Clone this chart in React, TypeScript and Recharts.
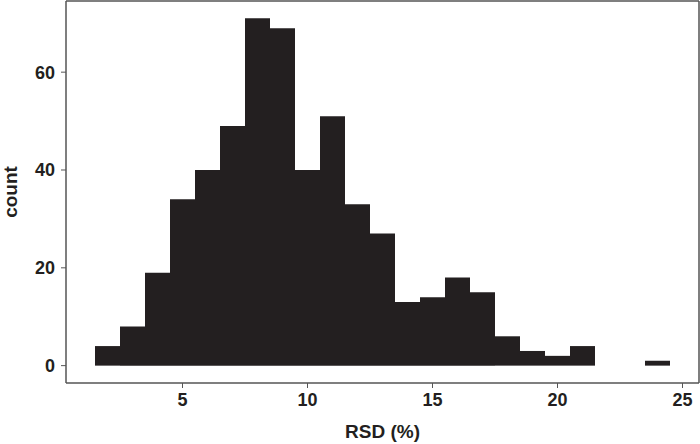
import { BarChart, Bar, XAxis, YAxis, CartesianGrid } from 'recharts';

// histogram bins (centre of each 1-unit bin) and counts
const bins = [2, 3, 4, 5, 6, 7, 8, 9, 10, 11, 12, 13, 14, 15, 16, 17, 18, 19, 20, 21, 22, 23, 24, 25];
const counts = [4, 8, 19, 34, 40, 49, 71, 69, 40, 51, 33, 27, 13, 14, 18, 15, 6, 3, 2, 4, 0, 0, 1, 0];

const xTicks = [5, 10, 15, 20, 25];
const yTicks = [0, 20, 40, 60];

const data = bins.map((b, i) => ({ bin: b, count: counts[i] }));

const font = '"Liberation Sans", Arial, sans-serif';
const axisColor = '#555555';
const textColor = '#231f20';

export default function App() {
  return (
    <div style={{ position: 'fixed', left: 0, top: 0, background: '#fff' }}>
      <BarChart
        width={700}
        height={444}
        data={data}
        margin={{ top: 1, right: 1, left: 0, bottom: 0 }}
        barCategoryGap={0}
        barGap={0}
      >
        {/* top + right frame lines of the panel */}
        <CartesianGrid
          stroke={axisColor}
          strokeWidth={1.5}
          strokeDasharray=""
          horizontalCoordinatesGenerator={({ offset }: any) => [offset.top]}
          verticalCoordinatesGenerator={({ offset }: any) => [offset.left + offset.width]}
        />
        <XAxis
          dataKey="bin"
          type="category"
          ticks={xTicks}
          interval={0}
          height={61}
          padding={{ left: 29, right: 4 }}
          axisLine={{ stroke: axisColor, strokeWidth: 1.5 }}
          tickLine={{ stroke: axisColor }}
          tickSize={5}
          tickMargin={5}
          tick={{ fill: textColor, fontSize: 18, fontWeight: 700, fontFamily: font }}
          label={{
            value: 'RSD (%)',
            position: 'insideBottom',
            offset: 6,
            fill: textColor,
            fontSize: 19,
            fontWeight: 700,
            fontFamily: font,
          }}
        />
        <YAxis
          width={66}
          domain={[-3.55, 74.55]}
          ticks={yTicks}
          allowDataOverflow
          axisLine={{ stroke: axisColor, strokeWidth: 1.5 }}
          tickLine={{ stroke: axisColor }}
          tickSize={5}
          tickMargin={6}
          tick={{ fill: textColor, fontSize: 18, fontWeight: 700, fontFamily: font }}
          label={{
            value: 'count',
            angle: -90,
            position: 'insideLeft',
            offset: 10,
            fill: textColor,
            fontSize: 19,
            fontWeight: 700,
            fontFamily: font,
            style: { textAnchor: 'middle' },
          }}
        />
        <Bar dataKey="count" fill="#231f20" isAnimationActive={false} />
      </BarChart>
    </div>
  );
}
